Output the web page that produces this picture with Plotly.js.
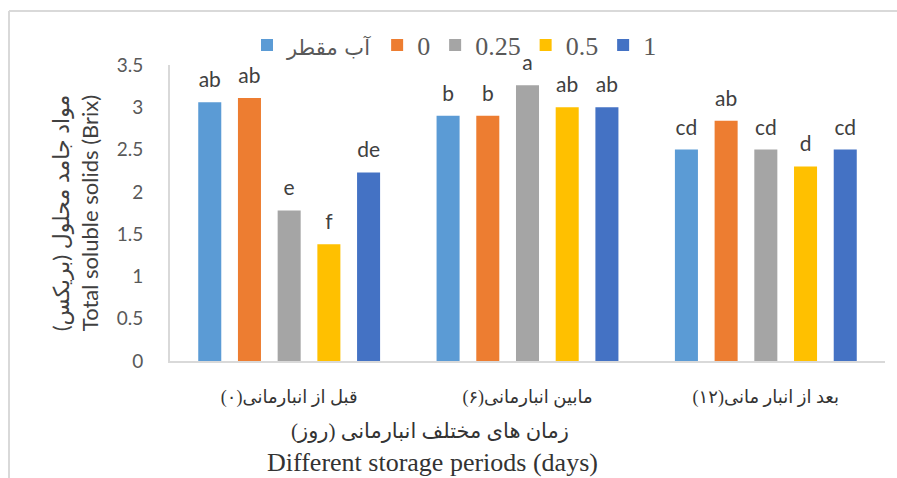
<!DOCTYPE html>
<html><head><meta charset="utf-8">
<script src="https://cdn.plot.ly/plotly-3.0.1.min.js"></script>
<style>html,body{margin:0;padding:0;background:#fff}#chart{width:897px;height:478px}</style>
</head><body><div id="chart"></div>
<script>
const RLM = '\u200F';
const categories = [RLM + 'قبل از انبارمانی(۰)' + RLM, RLM + 'مابین انبارمانی(۶)' + RLM, RLM + 'بعد از انبار مانی(۱۲)' + RLM];
const seriesNames = ['آب مقطر', '0', '0.25', '0.5', '1'];
const seriesColors = ['#5B9BD5', '#ED7D31', '#A5A5A5', '#FFC000', '#4472C4'];
// values per series, ordered by category (before, mid, after storage)
const distilledWater = [3.06, 2.90, 2.50];
const dose0 = [3.11, 2.90, 2.84];
const dose025 = [1.78, 3.26, 2.50];
const dose05 = [1.38, 3.00, 2.30];
const dose1 = [2.23, 3.00, 2.50];
const seriesValues = [distilledWater, dose0, dose025, dose05, dose1];
const letters0 = ['ab', 'b', 'cd'];
const letters1 = ['ab', 'b', 'ab'];
const letters2 = ['e', 'a', 'cd'];
const letters3 = ['f', 'ab', 'd'];
const letters4 = ['de', 'ab', 'cd'];
const seriesLetters = [letters0, letters1, letters2, letters3, letters4];
const yTickVals = [0, 0.5, 1, 1.5, 2, 2.5, 3, 3.5];
const yTickText = ['0', '0.5', '1', '1.5', '2', '2.5', '3', '3.5'];

const legendName = n => /[\u0600-\u06FF]/.test(n)
  ? '<span style="font-family:\'DejaVu Sans\';font-size:21px">' + n + '</span>' : n;

const traces = [];
seriesNames.forEach((name, i) => {
  traces.push({
    type: 'bar', name: legendName(name), x: categories, y: seriesValues[i],
    marker: {color: seriesColors[i], line: {width: 0}},
    offsetgroup: 'g' + i, hoverinfo: 'y'
  });
});
seriesNames.forEach((name, i) => {
  traces.push({
    type: 'scatter', mode: 'markers+text', x: categories, y: seriesValues[i],
    text: seriesLetters[i], textposition: 'top center',
    textfont: {family: 'Lato, "DejaVu Sans", sans-serif', size: 21, color: '#404040'},
    marker: {size: 14, color: 'rgba(0,0,0,0)'},
    offsetgroup: 'g' + i, showlegend: false, hoverinfo: 'skip', cliponaxis: false
  });
});

const L = 170, R = 12, T = 65, B = 117;
const W = 897, H = 478;
const pw = W - L - R, ph = H - T - B;
const px = v => (v - L) / pw;
const py = v => (H - B - v) / ph;

const layout = {
  width: W, height: H,
  margin: {l: L, r: R, t: T, b: B, pad: 0},
  paper_bgcolor: '#fff', plot_bgcolor: '#fff',
  barmode: 'group', bargap: 0.167, bargroupgap: 0.42,
  scattermode: 'group', scattergap: 0.167,
  font: {family: 'Lato, "DejaVu Sans", sans-serif', color: '#595959'},
  showlegend: true,
  legend: {
    orientation: 'h', x: px(247), xanchor: 'left', y: py(45), yanchor: 'middle',
    font: {family: '"Liberation Serif", "DejaVu Sans", serif', size: 26, color: '#595959'},
    bgcolor: 'rgba(0,0,0,0)', traceorder: 'normal'
  },
  xaxis: {
    type: 'category', showline: true, linecolor: '#d9d9d9', linewidth: 2,
    showgrid: false, zeroline: false, ticks: '', ticklabelstandoff: 18,
    tickfont: {family: '"Liberation Serif", "DejaVu Sans", serif', size: 18, color: '#333333'},
    fixedrange: true
  },
  yaxis: {
    range: [0, 3.5], tickvals: yTickVals, ticktext: yTickText,
    showline: true, linecolor: '#d9d9d9', linewidth: 2,
    showgrid: false, zeroline: false, ticks: '', ticklabelstandoff: 21,
    tickfont: {family: 'Lato, "DejaVu Sans", sans-serif', size: 19, color: '#595959'},
    title: {
      text: 'مواد جامد محلول (بریکس)' + RLM + '<br>Total soluble solids (Brix)',
      font: {family: 'Lato, "DejaVu Sans", sans-serif', size: 22, color: '#404040'},
      standoff: 12
    },
    automargin: true, fixedrange: true
  },
  annotations: [
    {xref: 'paper', yref: 'paper', x: px(430), y: py(431), xanchor: 'center', yanchor: 'middle',
     text: RLM + 'زمان های مختلف انبارمانی (روز)' + RLM, showarrow: false,
     font: {family: '"Liberation Serif", "DejaVu Sans", serif', size: 21, color: '#333333'}},
    {xref: 'paper', yref: 'paper', x: px(432), y: py(462), xanchor: 'center', yanchor: 'middle',
     text: 'Different storage periods (days)', showarrow: false,
     font: {family: '"Liberation Serif", serif', size: 26, color: '#333333'}}
  ],
  shapes: [
    {type: 'line', xref: 'paper', yref: 'paper', x0: px(9), x1: px(897), y0: py(11), y1: py(11), line: {color: '#d9d9d9', width: 2}},
    {type: 'line', xref: 'paper', yref: 'paper', x0: px(9), x1: px(9), y0: py(11), y1: py(478), line: {color: '#d9d9d9', width: 2}}
  ]
};

Plotly.newPlot('chart', traces, layout, {displayModeBar: false, staticPlot: true});
</script>
</body></html>
